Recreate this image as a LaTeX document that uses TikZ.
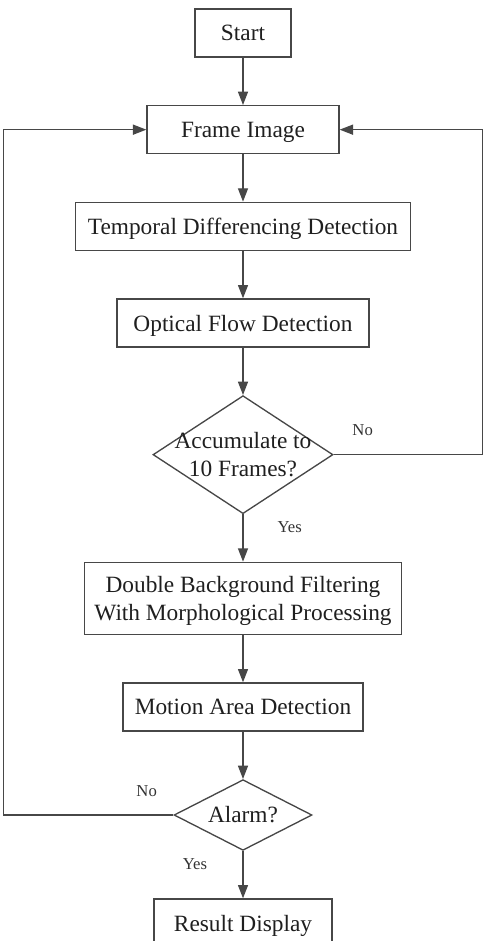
\documentclass[tikz,border=0pt]{standalone}
\usepackage{fontspec}
\setmainfont{Liberation Serif}
\usepackage{xcolor}
\usetikzlibrary{shapes.geometric, arrows.meta, positioning}
\definecolor{cizgi}{gray}{0.28}
\tikzset{
  adim/.style={rectangle, draw=cizgi, line width=1pt, minimum height=36pt, align=center, inner sep=0pt, text depth=0pt, font=\fontsize{17.5}{20.5}\selectfont, text=black!88},
  karar/.style={diamond, draw=cizgi, line width=1pt, inner sep=0pt, aspect=1},
  yazi/.style={align=center, inner sep=0pt, font=\fontsize{17.5}{20.5}\selectfont, text=black!88},
  etiket/.style={font=\fontsize{12.5}{14}\selectfont, text=black!80},
  ok/.style={-{Triangle[length=10pt, width=7.5pt]}, line width=1pt, draw=cizgi},
}
\begin{document}
\begin{tikzpicture}[node distance=35.5pt]
  \useasboundingbox (-182.25pt,24.75pt) rectangle (182.25pt,-681pt);
  % Main column
  \node[adim, minimum width=72pt] (start) {Start};
  \node[adim, minimum width=144pt, below=of start] (frame) {Frame Image};
  \node[adim, minimum width=251pt, below=of frame] (tdd) {Temporal Differencing Detection};
  \node[adim, minimum width=189pt, below=of tdd] (ofd) {Optical Flow Detection};
  \node[karar, minimum width=135pt, minimum height=88.5pt, below=of ofd,
        label={[yazi]center:Accumulate to\\10 Frames?}] (acc) {};
  \node[adim, minimum width=238pt, minimum height=54pt, below=of acc] (dbf) {Double Background Filtering\\With Morphological Processing};
  \node[adim, minimum width=180pt, below=of dbf] (mad) {Motion Area Detection};
  \node[karar, minimum width=103.5pt, minimum height=53pt, below=of mad,
        label={[yazi]center:Alarm?}] (alarm) {};
  \node[adim, minimum width=133.5pt, below=of alarm] (result) {Result Display};
  % Arrows down the column
  \draw[ok] (start) -- (frame);
  \draw[ok] (frame) -- (tdd);
  \draw[ok] (tdd) -- (ofd);
  \draw[ok] (ofd) -- (acc);
  \draw[ok] (acc) -- (dbf);
  \draw[ok] (dbf) -- (mad);
  \draw[ok] (mad) -- (alarm);
  \draw[ok] (alarm) -- (result);
  % Loops back to the frame image
  \draw[ok] (acc.east) -- ++(111.75pt,0) |- (frame.east);
  \draw[ok] (alarm.west) -- ++(-127.5pt,0) |- (frame.west);
  % Branch labels
  \node[etiket] (no1) at ([xshift=21.75pt, yshift=18.75pt]acc.east) {No};
  \node[etiket] (yes1) at ([xshift=35pt, yshift=-9.75pt]acc.south) {Yes};
  \node[etiket] (no2) at ([xshift=-20pt, yshift=18pt]alarm.west) {No};
  \node[etiket] (yes2) at ([xshift=-36pt, yshift=-9.75pt]alarm.south) {Yes};
\end{tikzpicture}
\end{document}
